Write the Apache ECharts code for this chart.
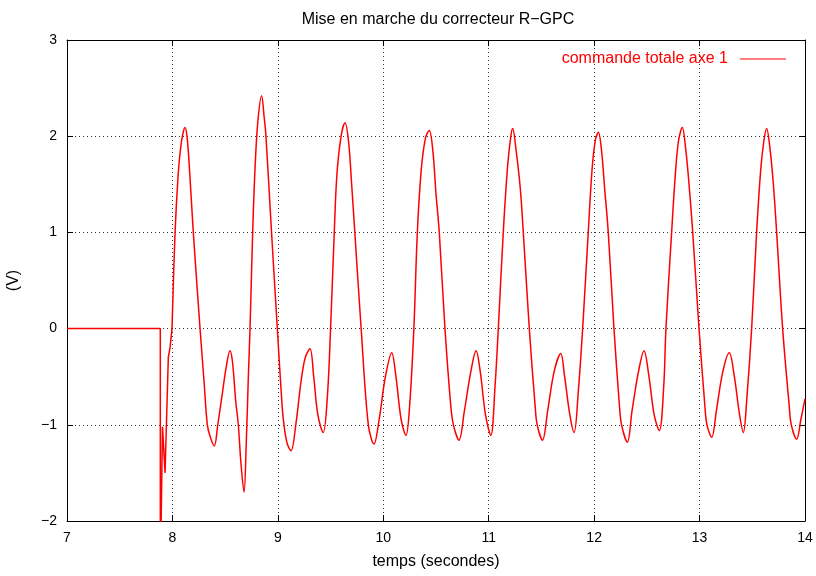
<!DOCTYPE html>
<html>
<head>
<meta charset="utf-8">
<script src="https://cdn.jsdelivr.net/npm/echarts@6/dist/echarts.min.js"></script>
<style>
  html, body { margin: 0; padding: 0; background: #fff; }
  #chart { width: 816px; height: 576px; }
</style>
</head>
<body>
<div id="chart"></div>
<script>
// Controller start-up: flat command, then the switch-on transient
const startTime = [7.0, 7.885, 7.885, 7.900, 7.906, 7.930, 7.961, 7.977, 7.996];
const startVolts = [0.0, 0.0, -2.6, -2.6, -1.02, -1.50, -0.30, -0.20, 0.0];

// Oscillating total command on axis 1 (seconds, volts)
const runTime = [
  7.996, 8.025, 8.055, 8.080, 8.100, 8.119, 8.140, 8.165, 8.198, 8.262, 8.300, 8.331, 8.360, 8.397,
  8.430, 8.470, 8.510, 8.546, 8.570, 8.600, 8.625, 8.650, 8.679, 8.700, 8.720, 8.736, 8.761, 8.785,
  8.810, 8.846, 8.870, 8.887, 8.940, 8.995, 9.040, 9.058, 9.090, 9.125, 9.170, 9.220, 9.260, 9.305,
  9.340, 9.380, 9.430, 9.470, 9.500, 9.535, 9.560, 9.600, 9.637, 9.670, 9.700, 9.730, 9.790, 9.858,
  9.912, 9.960, 10.020, 10.080, 10.120, 10.170, 10.215, 10.250, 10.290, 10.323, 10.360, 10.400, 10.436,
  10.470, 10.500, 10.531, 10.585, 10.640, 10.665, 10.718, 10.770, 10.830, 10.880, 10.920, 10.970, 11.020,
  11.060, 11.091, 11.138, 11.180, 11.210, 11.227, 11.260, 11.300, 11.328, 11.385, 11.440, 11.460, 11.510,
  11.560, 11.620, 11.683, 11.720, 11.770, 11.810, 11.850, 11.891, 11.944, 11.980, 12.010, 12.040, 12.070,
  12.100, 12.134, 12.188, 12.240, 12.260, 12.315, 12.360, 12.420, 12.473, 12.520, 12.570, 12.618, 12.660,
  12.681, 12.735, 12.770, 12.800, 12.836, 12.870, 12.900, 12.935, 12.995, 13.050, 13.070, 13.115, 13.160,
  13.220, 13.282, 13.330, 13.380, 13.415, 13.450, 13.494, 13.541, 13.580, 13.610, 13.636, 13.670, 13.700,
  13.731, 13.788, 13.850, 13.870, 13.921, 13.960, 14.000
];
const runVolts = [
  0.00, 1.00, 1.61, 1.90, 2.03, 2.09, 1.98, 1.60, 1.00, 0.00, -0.55, -1.00, -1.13, -1.22,
  -1.00, -0.70, -0.40, -0.23, -0.35, -0.75, -1.00, -1.40, -1.70, -1.20, -0.50, 0.00, 1.00, 1.70,
  2.15, 2.42, 2.20, 2.00, 1.00, 0.00, -0.80, -1.00, -1.20, -1.27, -1.00, -0.55, -0.30, -0.21,
  -0.50, -0.90, -1.08, -0.70, 0.00, 1.00, 1.60, 2.00, 2.14, 1.95, 1.50, 1.00, 0.00, -1.00,
  -1.20, -0.95, -0.50, -0.25, -0.50, -0.95, -1.11, -0.80, 0.00, 1.00, 1.65, 1.98, 2.06,
  1.85, 1.40, 1.00, 0.00, -0.80, -1.00, -1.16, -0.85, -0.45, -0.23, -0.45, -0.90, -1.11,
  -0.60, 0.00, 1.00, 1.70, 2.00, 2.08, 1.85, 1.45, 1.00, 0.00, -0.80, -1.00, -1.16,
  -0.85, -0.45, -0.26, -0.50, -0.90, -1.08, -0.65, 0.00, 1.00, 1.65, 1.95, 2.04, 1.85,
  1.45, 1.00, 0.00, -0.80, -1.00, -1.18, -0.85, -0.45, -0.23, -0.50, -0.90, -1.06, -0.60,
  0.00, 1.00, 1.60, 1.95, 2.09, 1.85, 1.50, 1.00, 0.00, -0.80, -1.00, -1.13, -0.85,
  -0.45, -0.25, -0.50, -0.90, -1.08, -0.70, 0.00, 1.00, 1.65, 1.95, 2.08, 1.85, 1.50,
  1.00, 0.00, -0.80, -1.00, -1.15, -0.95, -0.73
];

const xTicks = { min: 7, max: 14, step: 1 };
const yTicks = { min: -2, max: 3, step: 1 };

const pair = (ts, vs) => ts.map((t, i) => [t, vs[i]]);
const minus = v => String(v).replace('-', '\u2212');
const FONT = '"Liberation Sans", Arial, sans-serif';
const gridLine = { show: true, lineStyle: { color: '#333', type: [1, 3], width: 1 } };

const baseX = {
  type: 'value', min: xTicks.min, max: xTicks.max, interval: xTicks.step,
  axisLine: { show: true, onZero: false, lineStyle: { color: '#000' } },
  axisTick: { show: true, inside: true, length: 6, lineStyle: { color: '#000' } }
};
const baseY = {
  type: 'value', min: yTicks.min, max: yTicks.max, interval: yTicks.step,
  axisLine: { show: true, onZero: false, lineStyle: { color: '#000' } },
  axisTick: { show: true, inside: true, length: 6, lineStyle: { color: '#000' } }
};

const chart = echarts.init(document.getElementById('chart'), null, { renderer: 'canvas' });
chart.setOption({
  animation: false,
  backgroundColor: '#fff',
  title: {
    text: 'Mise en marche du correcteur R\u2212GPC',
    left: 433, top: 7, textAlign: 'center',
    textStyle: { fontFamily: FONT, fontSize: 16, fontWeight: 'normal', color: '#000' }
  },
  legend: {
    right: 25, top: 46, align: 'right',
    icon: 'rect', itemWidth: 46, itemHeight: 1,
    textStyle: { fontFamily: FONT, fontSize: 16, color: '#ff0000', padding: [0, 7, 0, 0] },
    data: ['commande totale axe 1']
  },
  grid: { left: 67, right: 11, top: 40, bottom: 55, containLabel: false, outerBoundsMode: 'none' },
  xAxis: [
    Object.assign({}, baseX, {
      position: 'bottom',
      name: 'temps (secondes)', nameLocation: 'middle', nameGap: 33,
      nameTextStyle: { fontFamily: FONT, fontSize: 16, color: '#000' },
      axisLabel: { fontFamily: FONT, fontSize: 14, color: '#000', margin: 10, formatter: minus },
      splitLine: gridLine
    }),
    Object.assign({}, baseX, { position: 'top', axisLabel: { show: false }, splitLine: { show: false } })
  ],
  yAxis: [
    Object.assign({}, baseY, {
      position: 'left',
      name: '(V)', nameLocation: 'middle', nameGap: 45, nameRotate: 90,
      nameTextStyle: { fontFamily: FONT, fontSize: 16, color: '#000' },
      axisLabel: { fontFamily: FONT, fontSize: 14, color: '#000', margin: 10, formatter: minus },
      splitLine: gridLine
    }),
    Object.assign({}, baseY, { position: 'right', axisLabel: { show: false }, splitLine: { show: false } })
  ],
  series: [
    {
      name: 'commande totale axe 1', type: 'line', xAxisIndex: 0, yAxisIndex: 0,
      data: pair(startTime, startVolts), symbol: 'none', clip: true,
      lineStyle: { color: '#ff0000', width: 1.5 }, itemStyle: { color: '#ff0000' }
    },
    {
      name: 'commande totale axe 1', type: 'line', xAxisIndex: 0, yAxisIndex: 0,
      data: pair(runTime, runVolts), symbol: 'none', clip: true, smooth: 0.35,
      lineStyle: { color: '#ff0000', width: 1.5 }, itemStyle: { color: '#ff0000' }
    }
  ]
});
</script>
</body>
</html>
